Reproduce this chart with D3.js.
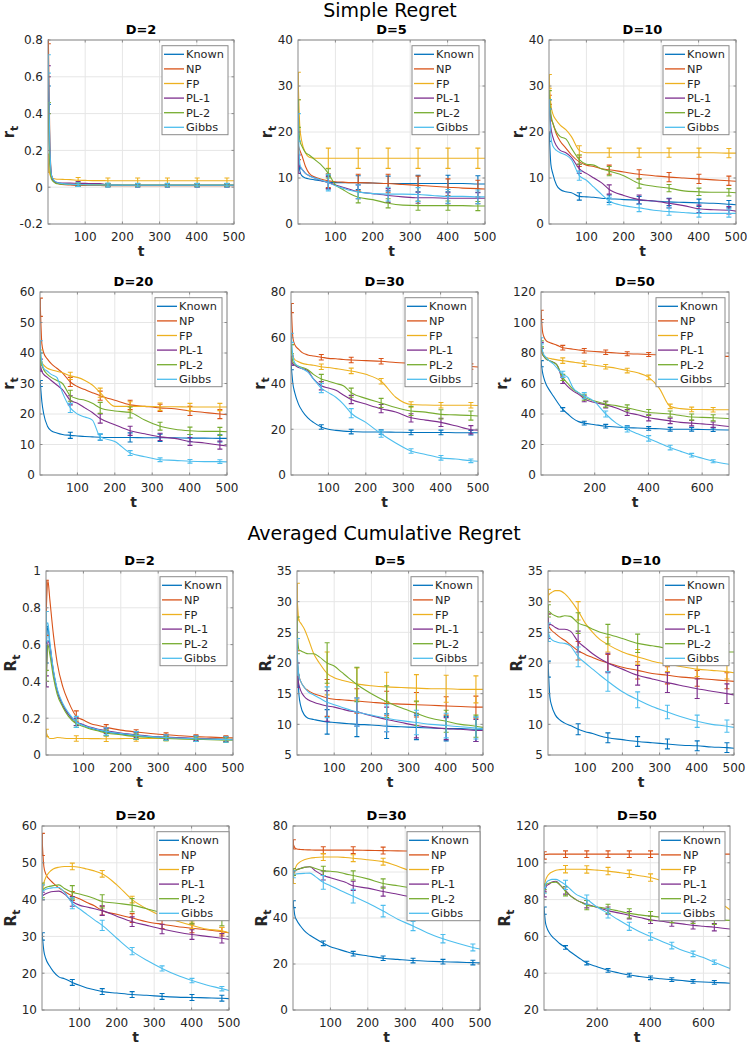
<!DOCTYPE html>
<html><head><meta charset="utf-8">
<script src="https://cdn.jsdelivr.net/npm/d3@7"></script>
<style>body{margin:0;background:#fff} svg{display:block} text{font-family:"DejaVu Sans",sans-serif}</style>
</head><body><svg id="c" width="747" height="1044"></svg>
<script>
// ---------- data ----------
const seriesNames = ["Known","NP","FP","PL-1","PL-2","Gibbs"];
const seriesColors = ["#0072BD","#D95319","#EDB120","#7E2F8E","#77AC30","#4DBEEE"];
const t500 = [1,5,10,20,30,45,60,81,100,120,140,161,200,241,280,321,360,401,440,481,500];
const t700 = [1,5,10,20,30,45,60,81,100,120,140,161,200,241,280,321,360,401,440,481,520,561,600,641,700];
const errT500 = [1,81,161,241,321,401,481];
const errT700 = [1,81,161,241,321,401,481,561,641];
const xTicks500 = [100,200,300,400,500];
const xTicks700 = [200,400,600];

// Simple regret, D=2
const srD2Ticks = [-0.2,0,0.2,0.4,0.6,0.8];
const srD2 = [
 [0.5,0.15,0.05,0.025,0.02,0.017,0.015,0.012,0.011,0.011,0.01,0.01,0.01,0.01,0.01,0.01,0.01,0.01,0.01,0.01,0.01],
 [0.8,0.25,0.06,0.025,0.018,0.013,0.012,0.01,0.009,0.009,0.009,0.008,0.008,0.008,0.008,0.008,0.008,0.008,0.008,0.008,0.008],
 [0.13,0.07,0.05,0.045,0.043,0.042,0.041,0.038,0.037,0.036,0.036,0.035,0.035,0.035,0.035,0.035,0.035,0.035,0.035,0.035,0.035],
 [0.63,0.2,0.06,0.028,0.024,0.022,0.022,0.021,0.021,0.02,0.02,0.012,0.011,0.01,0.01,0.01,0.01,0.01,0.01,0.01,0.01],
 [0.43,0.12,0.04,0.022,0.018,0.016,0.015,0.014,0.013,0.013,0.013,0.012,0.012,0.012,0.012,0.012,0.012,0.012,0.012,0.012,0.012],
 [0.67,0.22,0.06,0.03,0.022,0.018,0.016,0.014,0.013,0.012,0.012,0.012,0.011,0.011,0.011,0.011,0.011,0.011,0.011,0.011,0.011]];
const srD2Err = [
 [0.05,0.008,0.008,0.008,0.008,0.008,0.008],
 [0.02,0.005,0.005,0.005,0.005,0.005,0.005],
 [0.05,0.015,0.015,0.015,0.015,0.015,0.015],
 [0.03,0.01,0.008,0.008,0.008,0.008,0.008],
 [0.03,0.008,0.008,0.008,0.008,0.008,0.008],
 [0.05,0.01,0.01,0.01,0.01,0.01,0.01]];

// Simple regret, D=5
const srD5Ticks = [0,10,20,30,40];
const srD5 = [
 [15,11.5,10.5,10,9.8,9.6,9.4,9.1,9,9,9,9,8.9,8.8,8.8,8.8,8.8,8.8,8.8,8.7,8.7],
 [17,16,15,12.5,11,10.2,9.8,9.4,9.2,9.1,9,9,8.9,8.8,8.6,8.4,8.2,8,7.8,7.7,7.6],
 [30,21,18,15.5,14.5,14.3,14.3,14.3,14.3,14.3,14.3,14.3,14.3,14.3,14.3,14.3,14.3,14.3,14.3,14.3,14.3],
 [13,12.5,12,11,10.5,10,9.5,9,8.5,8,7.5,7,6.6,6.2,5.9,5.7,5.7,5.6,5.6,5.6,5.6],
 [24,18,17,15.5,15,14,13,11,8.5,7.5,6.5,5.8,5.3,4.5,4.1,4,4,4,4,3.9,3.9],
 [21,13,12,11,10.5,10,9.6,9,8.3,7.8,7.3,7,6.6,6.5,6.5,6.4,6.2,6,6,5.9,5.9]];
const srD5Err = [
 [3,1.5,1.5,1.6,1.8,1.8,1.8],
 [3,1.5,1.8,2,2,1.8,1.8],
 [3,2.2,2.2,2.2,2.2,2.2,2.2],
 [2,1.3,1.5,1.5,1.2,1.2,1.2],
 [3,1,1.2,1,1,1,1],
 [3,1.8,1.5,1.5,1.5,1.5,1.5]];

// Simple regret, D=10
const srD10Ticks = [0,10,20,30,40];
const srD10 = [
 [19,13,11,8.5,7.5,7,6.8,6,5.9,5.8,5.6,5.5,5.3,5.2,5,4.8,4.7,4.6,4.5,4.3,4.2],
 [27,23,22,19.5,18,16.5,15,13.5,12.8,12.5,12,11.8,11.3,10.8,10.5,10.2,10,9.8,9.6,9.4,9.3],
 [31,26,24,22.5,21.5,20.5,19,16,15.5,15.5,15.5,15.5,15.5,15.5,15.5,15.5,15.5,15.5,15.5,15.4,15.4],
 [26,21,19,17,16,15.5,14.5,12,11,10,9,7.5,6.2,5.3,5,4.5,4,3.3,3.1,3,2.8],
 [28,24,22,20,19,18.5,16.5,14,13,12.8,12,11.5,10.5,8.8,8.2,7.8,7.2,7,6.9,6.9,6.8],
 [26,19,17,16,15.5,15,14,10.5,9.5,8,6.5,5,4,3.5,3,2.7,2.5,2.3,2.3,2.3,2.3]];
const srD10Err = [
 [1,0.8,0.8,0.8,0.8,0.8,0.8],
 [1,1,1,1,1,1,1],
 [1.5,1,1,1,1,1,1],
 [1,1,1,1,1,0.8,0.8],
 [1,1,1,1,0.8,0.8,0.8],
 [1,1,0.8,0.8,0.8,0.8,0.8]];

// Simple regret, D=20
const srD20Ticks = [0,10,20,30,40,50,60];
const srD20 = [
 [30,24,20,16,14.5,13.8,13.3,13,12.8,12.6,12.5,12.4,12.3,12.3,12.2,12.2,12.2,12.1,12.1,12,12],
 [55,43,40,38,36.5,35,33.5,30.5,29,28,27,26,24.5,23,22.5,22,21.7,21,20.5,20,19.8],
 [39,37,36,35,34.5,34,33.5,32.5,32,31,29.5,27,22.5,22.5,22.5,22.4,22.4,22.3,22.3,22.3,22.3],
 [36,34,33,32,31,29.5,28,24.5,23.5,22,20.5,18.5,16.5,14.5,13.5,12.5,12,11,10.5,9.8,9.5],
 [38,36,34.5,33,32,31,30,26,25,24.5,23.5,22,21,20.5,18,16,15,14.5,14.3,14.3,14.2],
 [42,37,35,34,33,32,27,22,20,19,18,12.5,11,7.2,6,5,4.8,4.5,4.4,4.4,4.3]];
const srD20Err = [
 [1,1,1,1.5,1.2,1.2,1.2],
 [3,1.5,1.5,1.5,1.2,1.5,1.5],
 [2,1.2,1.5,1.5,1.2,1.2,1.2],
 [2,1.5,1.5,1.5,1.2,1.3,1.3],
 [2,1.8,1.8,1.8,1.3,1.2,1.3],
 [2,1.5,1,0.8,0.6,0.6,0.6]];

// Simple regret, D=30
const srD30Ticks = [0,20,40,60,80];
const srD30 = [
 [47,40,36,31,28,25,23,21,20,19.5,19.2,19,18.8,18.8,18.7,18.6,18.6,18.6,18.5,18.5,18.5],
 [73,60,57,55,53.5,52.5,52,51.5,51,50.8,50.5,50.3,50,49.7,49.2,48.8,48.4,48,47.7,47.4,47.2],
 [55,52,50.5,49.5,48.8,48.3,48,47.3,47,46.5,46,45.5,44,41,34,30.8,30.6,30.5,30.5,30.5,30.4],
 [50,48.5,48,47,46.5,45.5,42,39,38,37,35,33,31,29,27.5,25,24,23,21.5,19.8,19.6],
 [55,49.5,48.5,47.5,47,46,44,42,41,40,39,36,33.5,31.5,29.5,28,27.5,26.5,26.3,26,25.8],
 [60,52,49,47.5,46.5,45,42,38,36,34,31,27,23,18,14,10.5,9,7.5,7,6.2,6]];
const srD30Err = [
 [1,1,1,1,1,1,1],
 [2,1.2,1.2,1.2,1.2,1.2,1.2],
 [2,1.2,1.2,1.2,1.2,1.2,1.2],
 [2,1.8,1.8,1.8,1.8,1.8,1.8],
 [2,2,2,2,2,2,2],
 [2,2,2,1.5,1,1,0.8]];

// Simple regret, D=50
const srD50Ticks = [0,20,40,60,80,100,120];
const srD50 = [
 [73,68,64,59,56,52,48,43,40,37,35,34,33,32,31.5,31,30.8,30.5,30.3,30,30,30,29.8,29.7,29.5],
 [105,95,91,88,87,86,85,83.5,83,82.5,82,81.5,81,80.5,80,79.5,79.3,79,78.8,78.5,78.3,78,78,77.8,77.8],
 [82,79,78,77,76.5,76,75.5,75,74.5,74,73.5,73,72,71,70,68.5,67,64,57,45,43.5,43,43,42.8,42.8],
 [85,80,78,76,75,74,72,62,58,55,53,50,47.5,46,44,41,39.5,37.5,36.5,35.5,34.5,34,33.5,33,31.8],
 [86,80,78,76,75,74,72,64,60,56,54,51,48.5,46.5,45.5,44,42.5,41,40.5,40,39,38,37.8,37.5,37],
 [88,82,79,77,75,73,70,66,64,57,54,52,48,40,34,30,27,24,21,18,15.5,13,11,9,7]];
const srD50Err = [
 [2,1.2,1.2,1.2,1.2,1.2,1.2,1.2,1.2],
 [3,1.5,1.5,1.5,1.3,1.3,1.3,1.3,1.3],
 [2,1.8,1.8,1.5,1.5,1.5,1.5,1.5,1.5],
 [2,2,2,2,2,2,1.8,1.8,1.8],
 [2,2,2,2,2,2,2,2,2],
 [2,2,2,2,1.8,1.8,1.5,1.2,1]];

// Averaged cumulative regret, D=2
const acD2Ticks = [0,0.2,0.4,0.6,0.8,1];
const acD2 = [
 [0.6,0.7,0.6,0.45,0.35,0.27,0.22,0.18,0.16,0.145,0.135,0.125,0.115,0.105,0.1,0.095,0.092,0.09,0.088,0.085,0.085],
 [0.8,0.95,0.85,0.65,0.5,0.37,0.29,0.21,0.19,0.17,0.16,0.15,0.135,0.125,0.117,0.11,0.105,0.1,0.097,0.094,0.093],
 [0.12,0.1,0.09,0.09,0.095,0.092,0.09,0.09,0.09,0.089,0.089,0.088,0.089,0.09,0.09,0.09,0.089,0.088,0.087,0.086,0.085],
 [0.4,0.62,0.6,0.45,0.35,0.27,0.22,0.18,0.165,0.15,0.14,0.132,0.12,0.11,0.102,0.097,0.093,0.09,0.087,0.085,0.084],
 [0.43,0.6,0.55,0.42,0.33,0.26,0.21,0.17,0.155,0.14,0.13,0.12,0.11,0.1,0.095,0.09,0.087,0.085,0.083,0.081,0.08],
 [0.7,0.72,0.62,0.46,0.36,0.28,0.23,0.18,0.16,0.148,0.137,0.128,0.117,0.107,0.1,0.095,0.091,0.088,0.086,0.084,0.083]];
const acD2Err = [
 [0.1,0.02,0.02,0.02,0.015,0.015,0.015],
 [0.15,0.03,0.015,0.012,0.01,0.01,0.01],
 [0.02,0.015,0.015,0.015,0.012,0.012,0.012],
 [0.03,0.02,0.015,0.015,0.012,0.012,0.012],
 [0.03,0.02,0.015,0.015,0.012,0.012,0.012],
 [0.08,0.03,0.02,0.02,0.015,0.015,0.015]];

// Averaged cumulative regret, D=5
const acD5Ticks = [5,10,15,20,25,30,35];
const acD5 = [
 [21,15,13,11.5,11,10.8,10.6,10.4,10.3,10.2,10.1,10,9.9,9.7,9.6,9.5,9.4,9.3,9.3,9.2,9.2],
 [20,18,17,16,15.5,15,14.7,14.3,14.1,14,13.9,13.8,13.6,13.4,13.3,13.2,13.1,13,12.9,12.8,12.8],
 [30,27,26.5,25.5,24,21.5,20,18.3,17.6,17.2,16.9,16.6,16.3,16.1,16,15.9,15.8,15.8,15.7,15.7,15.7],
 [18,16.5,15.5,14.5,14,13.6,13.3,13,12.8,12.5,12.2,12,11.4,10.8,10.3,9.8,9.5,9.3,9.2,9,9],
 [24.5,22.2,22,21.7,21.5,21.5,21,20,19.5,18.5,17.5,16.5,15,13.7,12.7,11.8,11,10.5,10,9.7,9.5],
 [21,18,17,16,15.3,14.8,14.3,13.6,13.2,12.8,12.4,12,11.5,11,10.6,10.3,10,9.8,9.6,9.4,9.3]];
const acD5Err = [
 [3,2,2,2,2,2,2],
 [2,3,2,2,2,1.5,1.8],
 [3,3.5,2.6,2.4,2.2,2.2,2.2],
 [2,2.5,2.3,2,2,1.8,1.8],
 [3,3.3,2.8,2.6,2,1.8,1.8],
 [3,2.5,2.3,2.2,2,2,1.8]];

// Averaged cumulative regret, D=10
const acD10Ticks = [5,10,15,20,25,30,35];
const acD10 = [
 [19,14.5,13,11.5,10.8,10.2,9.8,9.2,8.8,8.5,8.1,7.8,7.5,7.2,7,6.8,6.6,6.5,6.3,6.2,6.1],
 [26,25.7,25.3,24.8,24.3,23.7,23,22,21.4,20.9,20.4,20,19.3,18.8,18.3,18,17.7,17.5,17.3,17.1,17],
 [31,31.3,31.5,31.8,31.8,31.3,30.3,28.5,26.5,25,23.8,23,21.8,21,20.3,19.8,19.4,19,18.8,18.6,18.4],
 [26,26.3,26.2,25.8,25.5,25.5,25.2,23.5,22.5,21.5,20.7,20,19,18,17.4,16.8,16.3,15.8,15.4,15,14.8],
 [28.5,28.3,28,27.7,27.5,27.7,27.6,26.5,26.1,25.5,25,24.7,24,23.2,22.8,22.4,22.1,22,21.9,21.8,21.8],
 [25,24.2,23.8,23.5,23.3,23.2,22.8,21,20,19,18,17,15.3,14,12.9,12,11.2,10.5,10,9.7,9.5]];
const acD10Err = [
 [1.3,0.9,0.8,0.8,0.8,0.8,0.8],
 [2,1.5,1.4,1.4,1.4,1.3,1.3],
 [1,1.5,1.2,1.2,1.2,1.2,1.2],
 [2,1.7,1.6,1.6,1.6,1.6,1.6],
 [1,1.7,1.6,1.5,1.4,1.4,1.4],
 [1.5,1.6,1.6,1.3,1.1,1,1]];

// Averaged cumulative regret, D=20
const acD20Ticks = [10,20,30,40,50,60];
const acD20 = [
 [30,26,24,22,20.5,19,18.5,17.5,16.7,16,15.5,15,14.6,14.2,14,13.7,13.5,13.4,13.3,13.2,13.1],
 [55,49,47,45.5,44.5,43.2,42.2,41,40.2,39.2,38.3,37,36,35,34,33.3,32.7,32.2,31.8,31.3,31],
 [42,44.5,46,47.5,48.3,48.8,49,49,48.8,48.3,47.8,47,44,40,37.5,35.5,34.2,33,32,31.5,31],
 [41,41.3,41.6,42,42.2,42.3,41.5,39.5,38.5,38,37.5,37,35.5,34,33,32,31.2,30.5,30,29.5,29.2],
 [42.5,43,43.3,43.6,43.8,44,43,42,41.5,41,40.3,39.5,39,38.5,37.5,36.5,35.8,35.2,34.9,34.7,34.5],
 [42,42.5,42.8,43.1,43.2,43.3,42,39,37.5,36,34.5,33,29.5,26,23.5,21.3,19.5,18,16.8,15.8,15.3]];
const acD20Err = [
 [1,0.8,0.8,0.8,0.8,0.8,0.8],
 [3,1.2,1.2,1.2,1.2,1.2,1.2],
 [2,0.9,0.9,0.9,0.9,0.9,0.9],
 [1,1.3,1.3,1.3,1.3,1.3,1.3],
 [2,1.8,1.8,1.8,1.8,1.8,1.8],
 [2,1.5,1.4,1,0.7,0.6,0.6]];

// Averaged cumulative regret, D=30
const acD30Ticks = [0,20,40,60,80];
const acD30 = [
 [46,41,39,36.5,34.5,32.5,31,29,27.5,26.5,25.5,24.5,23.5,22.5,22,21.5,21.2,21,20.8,20.6,20.5],
 [72,70.5,70,69.8,69.7,69.6,69.5,69.5,69.5,69.5,69.5,69.5,69.4,69.3,69.2,69.1,69,69,68.9,68.8,68.8],
 [57,61,63,64.5,65.3,66,66.3,66.5,66.5,66.5,66.3,66,65.3,64.5,62.5,60,58,55.5,53,49,48.5],
 [60,60.5,61,61.5,62,62.3,60.5,58.5,57.5,56.5,55.5,54,53,51.5,50.3,49,48,47,46,45,44.5],
 [60,60.5,61,61.5,62,62.3,61.5,60.5,60.3,60,59.2,58.5,57,55,54,53,52.5,52,51.5,51,50.8],
 [59,59,59.2,59.3,59.4,59.5,58,55.5,54,52.5,51,49.5,46.5,43,39.5,36.5,33.5,31,29,27.2,26.5]];
const acD30Err = [
 [1.5,1,1,1,1,1,1],
 [2,1.5,1.5,1.5,1.5,1.5,1.5],
 [2,1.5,1.5,1.5,1.5,1.5,1.5],
 [1.5,2,2,2,2,2,2],
 [1.5,2,2,2,2,2,2],
 [1.5,3,3,2.5,2,1.8,1.5]];

// Averaged cumulative regret, D=50
const acD50Ticks = [20,40,60,80,100,120];
const acD50 = [
 [74,68,65,62,60,58,56,54,51.5,49.5,47.5,45.5,43.5,41.5,40.2,39,38.2,37.5,37,36.5,36,35.5,35.2,35,34.5],
 [104,104.5,104.6,104.7,104.7,104.7,104.7,104.7,104.7,104.7,104.7,104.7,104.7,104.7,104.7,104.7,104.7,104.7,104.7,104.7,104.7,104.7,104.7,104.7,104.7],
 [86,90,92,94,95,96,96.3,96.5,96.5,96.5,96.5,96.4,96,95.5,94.8,94,93,92,90.5,89,87,85,83,80,74.5],
 [83,86,87.5,88.5,89.5,90,88,85,82,80,78.5,77.5,75.8,74,72.8,71.5,70.3,69,68.2,67.5,66.8,66,65.5,65,64],
 [87,88,88.5,89,89.3,89.5,88,84.5,82,80,78.5,77,76,75,73.8,72.5,71.7,71,70.5,70,69.8,69.5,69.2,69,68.7],
 [85,88,89.5,90.5,91,91,90,88,85.5,83,81.5,80,76,72.5,69,65.5,62.5,60,57.5,55,52.5,50.5,48.5,46,42.5]];
const acD50Err = [
 [2,1,1,1,1,1,1,1,1],
 [2,1.8,1.8,1.8,1.8,1.8,1.8,1.8,1.8],
 [2,2,2,2,2,2,2,2,2],
 [1.5,2,2,2,2,2,2,2,2],
 [1.5,2.5,2.5,2.5,2.5,2.5,2.5,2.5,2.5],
 [1.5,2.5,2.5,2.5,2.2,2,1.8,1.5,1.2]];

// ---------- layout ----------
const panels = [
 {title:"D=2",  t:t500, errT:errT500, xTicks:xTicks500, xMax:500, data:srD2,  err:srD2Err,  yTicks:srD2Ticks,  ylab:"r", box:[48,234,40,224],   legGap:6, legW:66},
 {title:"D=5",  t:t500, errT:errT500, xTicks:xTicks500, xMax:500, data:srD5,  err:srD5Err,  yTicks:srD5Ticks,  ylab:"r", box:[298,485,40,224],  legGap:6, legW:67},
 {title:"D=10", t:t500, errT:errT500, xTicks:xTicks500, xMax:500, data:srD10, err:srD10Err, yTicks:srD10Ticks, ylab:"r", box:[549,736,40,224],  legGap:7, legW:66},
 {title:"D=20", t:t500, errT:errT500, xTicks:xTicks500, xMax:500, data:srD20, err:srD20Err, yTicks:srD20Ticks, ylab:"r", box:[40,227,292,475],  legGap:5, legW:67},
 {title:"D=30", t:t500, errT:errT500, xTicks:xTicks500, xMax:500, data:srD30, err:srD30Err, yTicks:srD30Ticks, ylab:"r", box:[291,478,292,475], legGap:6, legW:67},
 {title:"D=50", t:t700, errT:errT700, xTicks:xTicks700, xMax:700, data:srD50, err:srD50Err, yTicks:srD50Ticks, ylab:"r", box:[541,729,292,475], legGap:4, legW:69},
 {title:"D=2",  t:t500, errT:errT500, xTicks:xTicks500, xMax:500, data:acD2,  err:acD2Err,  yTicks:acD2Ticks,  ylab:"R", box:[46,233,571,755],  legGap:6, legW:67},
 {title:"D=5",  t:t500, errT:errT500, xTicks:xTicks500, xMax:500, data:acD5,  err:acD5Err,  yTicks:acD5Ticks,  ylab:"R", box:[297,483,571,755], legGap:5, legW:67},
 {title:"D=10", t:t500, errT:errT500, xTicks:xTicks500, xMax:500, data:acD10, err:acD10Err, yTicks:acD10Ticks, ylab:"R", box:[548,734,571,755], legGap:5, legW:66},
 {title:"D=20", t:t500, errT:errT500, xTicks:xTicks500, xMax:500, data:acD20, err:acD20Err, yTicks:acD20Ticks, ylab:"R", box:[42,229,826,1010], legGap:0, legW:72},
 {title:"D=30", t:t500, errT:errT500, xTicks:xTicks500, xMax:500, data:acD30, err:acD30Err, yTicks:acD30Ticks, ylab:"R", box:[293,480,826,1010],legGap:0, legW:73},
 {title:"D=50", t:t700, errT:errT700, xTicks:xTicks700, xMax:700, data:acD50, err:acD50Err, yTicks:acD50Ticks, ylab:"R", box:[544,730,826,1010],legGap:5, legW:66}
];

const svg = d3.select("#c");
svg.append("rect").attr("width",747).attr("height",1044).attr("fill","#fff");
const defs = svg.append("defs");
const TXT = "#262626", AX = "#8a8a8a", GRID = "#e6e6e6";

svg.append("text").attr("x",390).attr("y",17).attr("text-anchor","middle")
  .attr("font-size",19).attr("fill","#000").text("Simple Regret");
svg.append("text").attr("x",384).attr("y",540).attr("text-anchor","middle")
  .attr("font-size",19).attr("fill","#000").text("Averaged Cumulative Regret");

panels.forEach((p,pi)=>{
  const [x0,x1,y0,y1] = p.box;
  const x = d3.scaleLinear().domain([0,p.xMax]).range([x0,x1]);
  const y = d3.scaleLinear().domain(d3.extent(p.yTicks)).range([y1,y0]);
  const g = svg.append("g");

  // grid
  g.selectAll(null).data(p.xTicks).join("line")
    .attr("x1",d=>x(d)).attr("x2",d=>x(d)).attr("y1",y0).attr("y2",y1)
    .attr("stroke",GRID).attr("stroke-width",1);
  g.selectAll(null).data(p.yTicks).join("line")
    .attr("x1",x0).attr("x2",x1).attr("y1",d=>y(d)).attr("y2",d=>y(d))
    .attr("stroke",GRID).attr("stroke-width",1);

  // series
  const cid = "clip"+pi;
  defs.append("clipPath").attr("id",cid).append("rect")
    .attr("x",x0).attr("y",y0-1).attr("width",x1-x0).attr("height",y1-y0+2);
  const plot = g.append("g").attr("clip-path",`url(#${cid})`);
  const line = d3.line().x(d=>x(d[0])).y(d=>y(d[1])).curve(d3.curveMonotoneX);
  seriesNames.forEach((name,si)=>{
    const vals = p.data[si];
    const pts = p.t.map((tt,i)=>[tt,vals[i]]);
    const col = seriesColors[si];
    plot.append("path").attr("d",line(pts)).attr("fill","none")
      .attr("stroke",col).attr("stroke-width",1.1);
    p.errT.forEach((et,k)=>{
      const v = vals[p.t.indexOf(et)], e = p.err[si][k];
      const cx = x(et), ya = y(v-e), yb = y(v+e), c = 2.5;
      plot.append("path")
        .attr("d",`M${cx},${ya}V${yb}M${cx-c},${ya}H${cx+c}M${cx-c},${yb}H${cx+c}`)
        .attr("fill","none").attr("stroke",col).attr("stroke-width",1.1);
    });
  });

  // axes box and ticks
  g.append("rect").attr("x",x0).attr("y",y0).attr("width",x1-x0).attr("height",y1-y0)
    .attr("fill","none").attr("stroke",AX).attr("stroke-width",1);
  const tl = 2.5;
  p.xTicks.forEach(v=>{
    g.append("line").attr("x1",x(v)).attr("x2",x(v)).attr("y1",y1).attr("y2",y1-tl).attr("stroke",AX);
    g.append("line").attr("x1",x(v)).attr("x2",x(v)).attr("y1",y0).attr("y2",y0+tl).attr("stroke",AX);
  });
  p.yTicks.forEach(v=>{
    g.append("line").attr("x1",x0).attr("x2",x0+tl).attr("y1",y(v)).attr("y2",y(v)).attr("stroke",AX);
    g.append("line").attr("x1",x1).attr("x2",x1-tl).attr("y1",y(v)).attr("y2",y(v)).attr("stroke",AX);
  });

  // tick labels
  g.selectAll(null).data(p.xTicks).join("text")
    .attr("x",d=>x(d)).attr("y",y1+17).attr("text-anchor","middle")
    .attr("font-size",12).attr("fill",TXT).text(d=>String(d));
  const yl = g.selectAll(null).data(p.yTicks).join("text")
    .attr("x",x0-5).attr("y",d=>y(d)+4.3).attr("text-anchor","end")
    .attr("font-size",12).attr("fill",TXT).text(d=>String(d));
  let maxW = 0;
  yl.each(function(){ maxW = Math.max(maxW, this.getComputedTextLength()); });

  // axis labels
  g.append("text").attr("x",(x0+x1)/2).attr("y",y1+32).attr("text-anchor","middle")
    .attr("font-size",14).attr("font-weight","bold").attr("fill",TXT).text("t");
  const lx = x0 - 5 - maxW - 6, ly = (y0+y1)/2;
  const yt = g.append("text").attr("transform",`translate(${lx},${ly}) rotate(-90)`)
    .attr("text-anchor","middle").attr("font-weight","bold").attr("fill",TXT).attr("font-size",15);
  yt.append("tspan").text(p.ylab);
  yt.append("tspan").attr("font-size",11).attr("dy",4).text("t");

  // title
  g.append("text").attr("x",(x0+x1)/2).attr("y",y0-6).attr("text-anchor","middle")
    .attr("font-size",13).attr("font-weight","bold").attr("fill","#000").text(p.title);

  // legend
  const lw = p.legW, lh = 89;
  const lxr = x1 - p.legGap - lw, lyt = y0 + 5.7;
  const lg = g.append("g");
  lg.append("rect").attr("x",lxr).attr("y",lyt).attr("width",lw).attr("height",lh)
    .attr("fill","#fff").attr("stroke",AX).attr("stroke-width",1);
  seriesNames.forEach((name,si)=>{
    const ry = lyt + 8.6 + si*14.6;
    lg.append("line").attr("x1",lxr+2).attr("x2",lxr+22).attr("y1",ry).attr("y2",ry)
      .attr("stroke",seriesColors[si]).attr("stroke-width",1.3);
    lg.append("text").attr("x",lxr+24).attr("y",ry+4).attr("font-size",11.3)
      .attr("fill",TXT).text(name);
  });
});
</script></body></html>
